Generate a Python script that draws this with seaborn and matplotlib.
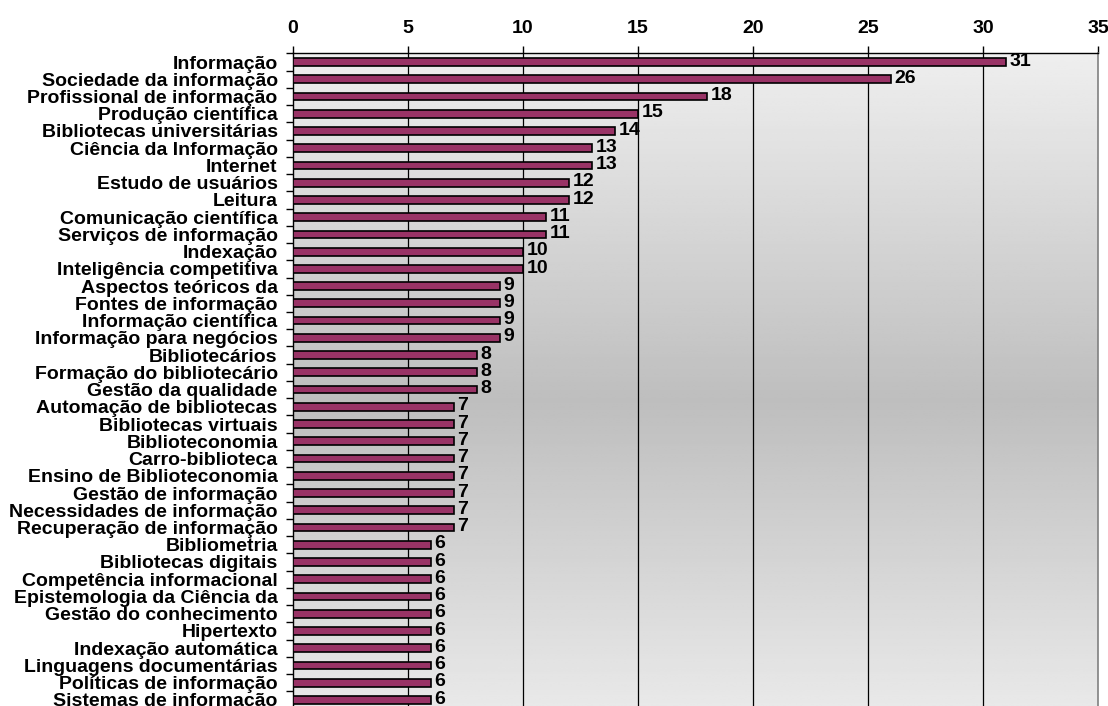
import numpy as np
import pandas as pd
import matplotlib
matplotlib.use("Agg")
import matplotlib.pyplot as plt
import seaborn as sns
from matplotlib.ticker import FixedLocator

### Dados
termos = ["Informação", "Sociedade da informação", "Profissional de informação",
          "Produção científica", "Bibliotecas universitárias", "Ciência da Informação",
          "Internet", "Estudo de usuários", "Leitura", "Comunicação científica",
          "Serviços de informação", "Indexação", "Inteligência competitiva",
          "Aspectos teóricos da", "Fontes de informação", "Informação científica",
          "Informação para negócios", "Bibliotecários", "Formação do bibliotecário",
          "Gestão da qualidade", "Automação de bibliotecas", "Bibliotecas virtuais",
          "Biblioteconomia", "Carro-biblioteca", "Ensino de Biblioteconomia",
          "Gestão de informação", "Necessidades de informação", "Recuperação de informação",
          "Bibliometria", "Bibliotecas digitais", "Competência informacional",
          "Epistemologia da Ciência da", "Gestão do conhecimento", "Hipertexto",
          "Indexação automática", "Linguagens documentárias", "Políticas de informação",
          "Sistemas de informação"]
frequencia = [31, 26, 18, 15, 14, 13, 13, 12, 12, 11, 11, 10, 10, 9, 9, 9, 9, 8, 8, 8,
              7, 7, 7, 7, 7, 7, 7, 7, 6, 6, 6, 6, 6, 6, 6, 6, 6, 6]
x_ticks = [0, 5, 10, 15, 20, 25, 30, 35]

df = pd.DataFrame({"Termo": termos, "Frequencia": frequencia})

sns.set_style("white")
plt.rcParams['font.family'] = ['Liberation Sans', 'DejaVu Sans']
plt.rcParams['font.weight'] = 'bold'
plt.rcParams['text.color'] = 'black'
plt.rcParams['xtick.color'] = 'black'
plt.rcParams['ytick.color'] = 'black'

fs = 14

fig = plt.figure(figsize=(11.08, 7.06), dpi=100)
ax = fig.add_axes([293/1108, -2.5/706, (1098-293)/1108, (706-53.4+2.5)/706])

# fundo em gradiente (claro em cima e embaixo, escuro no meio)
t = np.linspace(0, 1, 256)
shade = 0.935 - 0.19 * (1 - np.abs(t - 0.47) / 0.53).clip(0, 1)
grad = np.repeat(shade[:, None], 2, axis=1)
ax.imshow(grad, cmap='gray', vmin=0, vmax=1, aspect='auto', extent=[0, 1, 0, 1],
          transform=ax.transAxes, zorder=0, origin='lower')

sns.barplot(data=df, y="Termo", x="Frequencia", orient='h', color='#993366',
            saturation=1, width=0.45, edgecolor='black', linewidth=1.2, ax=ax, zorder=3)

for i, v in enumerate(frequencia):
    ax.text(v + 0.15, i - 0.05, str(v), va='center', ha='left', fontsize=fs,
            fontweight='bold', color='black', zorder=4)

ax.set_xlim(0, 35)
ax.set_ylim(len(termos) - 0.5, -0.5)
ax.xaxis.set_major_locator(FixedLocator(x_ticks))
ax.xaxis.tick_top()
ax.xaxis.set_label_position('top')
ax.tick_params(axis='x', which='major', direction='out', length=5, width=1,
               labelsize=fs, pad=7)
for lbl in ax.get_xticklabels():
    lbl.set_fontweight('bold')

# ticks do eixo y nos limites das categorias
ax.yaxis.set_minor_locator(FixedLocator(np.arange(-0.5, len(termos), 1)))
ax.tick_params(axis='y', which='major', length=0, labelsize=fs, pad=11)
ax.tick_params(axis='y', which='minor', length=5, width=1, direction='out')
ax.yaxis.tick_left()
for lbl in ax.get_yticklabels():
    lbl.set_fontweight('bold')

for x in x_ticks[1:-1]:
    ax.axvline(x, color='black', lw=0.9, zorder=2)

ax.set_xlabel("")
ax.set_ylabel("")
for side in ['left', 'top']:
    ax.spines[side].set_color('black')
    ax.spines[side].set_linewidth(1)
ax.spines['right'].set_color('#808080')
ax.spines['right'].set_linewidth(1.2)
ax.spines['bottom'].set_visible(False)

fig.savefig("out.png", dpi=100)
